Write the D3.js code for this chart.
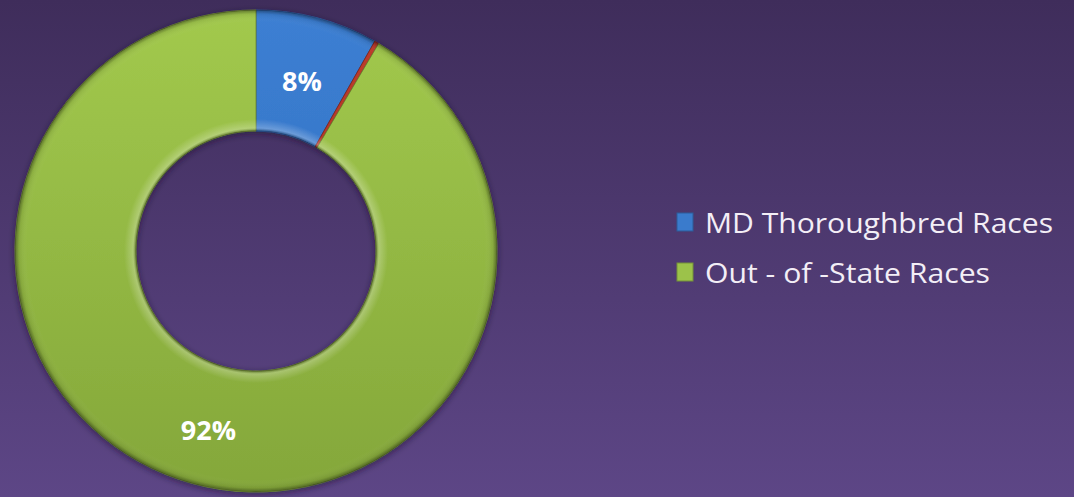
<!DOCTYPE html>
<html>
<head>
<meta charset="utf-8">
<script src="https://cdn.jsdelivr.net/npm/d3@7"></script>
<style>
  html, body { margin: 0; padding: 0; overflow: hidden; }
  body { width: 1074px; height: 497px; }
  text { font-family: "Open Sans", "Noto Sans", sans-serif; }
</style>
</head>
<body>
<div id="chart"></div>
<script>
// slice names, values (share of races, %), and colors
let categories = ["MD Thoroughbred Races", "", "Out - of -State Races"];
let values = [8.2, 0.3, 91.5];
let labels = ["8%", "", "92%"];
let legendNames = ["MD Thoroughbred Races", "Out - of -State Races"];
let colors = ["#3a7bcc", "#b83a2a", "#9cc24a"];
let darkColors = ["#2f6ab8", "#9c2e22", "#84a73a"];

let width = 1074, height = 497;
let cx = 256, cy = 251;
let outerR = 241, innerR = 120;

let svg = d3.select("#chart").append("svg")
    .attr("width", width)
    .attr("height", height);

let defs = svg.append("defs");

// background gradient
let bg = defs.append("linearGradient").attr("id", "bg")
    .attr("x1", 0).attr("y1", 0).attr("x2", 0).attr("y2", 1);
bg.append("stop").attr("offset", "0%").attr("stop-color", "#3f2d5b");
bg.append("stop").attr("offset", "100%").attr("stop-color", "#5d4686");

svg.append("rect")
    .attr("width", width).attr("height", height)
    .attr("fill", "url(#bg)");

// vertical gradient for each slice colour
categories.forEach(function (c, i) {
    let g = defs.append("linearGradient").attr("id", "fill" + i)
        .attr("gradientUnits", "userSpaceOnUse")
        .attr("x1", 0).attr("y1", -outerR).attr("x2", 0).attr("y2", outerR);
    g.append("stop").attr("offset", "0%").attr("stop-color", d3.color(colors[i]).brighter(0.1));
    g.append("stop").attr("offset", "100%").attr("stop-color", darkColors[i]);
});

// bevel overlay: light near the hole, dark at the outer rim
let bevel = defs.append("radialGradient").attr("id", "bevel")
    .attr("gradientUnits", "userSpaceOnUse")
    .attr("cx", 0).attr("cy", 0).attr("r", outerR);
let rel = function (r) { return (r / outerR * 100) + "%"; };
bevel.append("stop").attr("offset", rel(innerR)).attr("stop-color", "#000").attr("stop-opacity", 0.35);
bevel.append("stop").attr("offset", rel(innerR + 3)).attr("stop-color", "#fff").attr("stop-opacity", 0.25);
bevel.append("stop").attr("offset", rel(innerR + 12)).attr("stop-color", "#fff").attr("stop-opacity", 0);
bevel.append("stop").attr("offset", rel(outerR - 12)).attr("stop-color", "#fff").attr("stop-opacity", 0);
bevel.append("stop").attr("offset", rel(outerR - 4)).attr("stop-color", "#000").attr("stop-opacity", 0.08);
bevel.append("stop").attr("offset", "100%").attr("stop-color", "#000").attr("stop-opacity", 0.4);

let shadow = defs.append("filter").attr("id", "shadow")
    .attr("x", "-10%").attr("y", "-10%").attr("width", "120%").attr("height", "120%");
shadow.append("feDropShadow")
    .attr("dx", 0).attr("dy", 2).attr("stdDeviation", 3)
    .attr("flood-color", "#1a0f2a").attr("flood-opacity", 0.6);

let pie = d3.pie().sort(null).value(function (d) { return d; });
let arc = d3.arc().innerRadius(innerR).outerRadius(outerR);
let labelArc = d3.arc().innerRadius((innerR + outerR) / 2).outerRadius((innerR + outerR) / 2);

let g = svg.append("g").attr("transform", "translate(" + cx + "," + cy + ")");

let donut = g.append("g").attr("filter", "url(#shadow)");

let arcs = pie(values);

donut.selectAll("path.slice")
    .data(arcs)
    .enter().append("path")
    .attr("class", "slice")
    .attr("d", arc)
    .attr("fill", function (d, i) { return "url(#fill" + i + ")"; })
    .attr("stroke", function (d, i) { return d3.color(darkColors[i]).darker(0.6); })
    .attr("stroke-width", 0.8);

// bevel ring over the slices
donut.append("path")
    .attr("d", d3.arc().innerRadius(innerR).outerRadius(outerR).startAngle(0).endAngle(2 * Math.PI)())
    .attr("fill", "url(#bevel)")
    .attr("pointer-events", "none");

// percent labels
g.selectAll("text.pct")
    .data(arcs)
    .enter().append("text")
    .attr("class", "pct")
    .attr("transform", function (d) {
        let c = labelArc.centroid(d);
        return "translate(" + c[0] + "," + (c[1] + 5) + ")";
    })
    .attr("text-anchor", "middle")
    .attr("dy", "0.35em")
    .attr("fill", "#ffffff")
    .attr("font-size", 27)
    .attr("font-weight", "bold")
    .text(function (d, i) { return labels[i]; });

// legend
let legendColors = [colors[0], colors[2]];
let legend = svg.append("g").attr("transform", "translate(677,213)");
let item = legend.selectAll("g.item")
    .data(legendNames)
    .enter().append("g")
    .attr("class", "item")
    .attr("transform", function (d, i) { return "translate(0," + (i * 50) + ")"; });

item.append("rect")
    .attr("width", 16).attr("height", 18)
    .attr("fill", function (d, i) { return legendColors[i]; })
    .attr("stroke", function (d, i) { return d3.color(legendColors[i]).darker(0.8); })
    .attr("stroke-width", 1);

item.append("text")
    .attr("x", 28)
    .attr("y", 20)
    .attr("fill", "#f3eef6")
    .attr("font-size", 28)
    .attr("textLength", function (d, i) { return i === 0 ? 348 : 285; })
    .attr("lengthAdjust", "spacingAndGlyphs")
    .text(function (d) { return d; });
</script>
</body>
</html>
